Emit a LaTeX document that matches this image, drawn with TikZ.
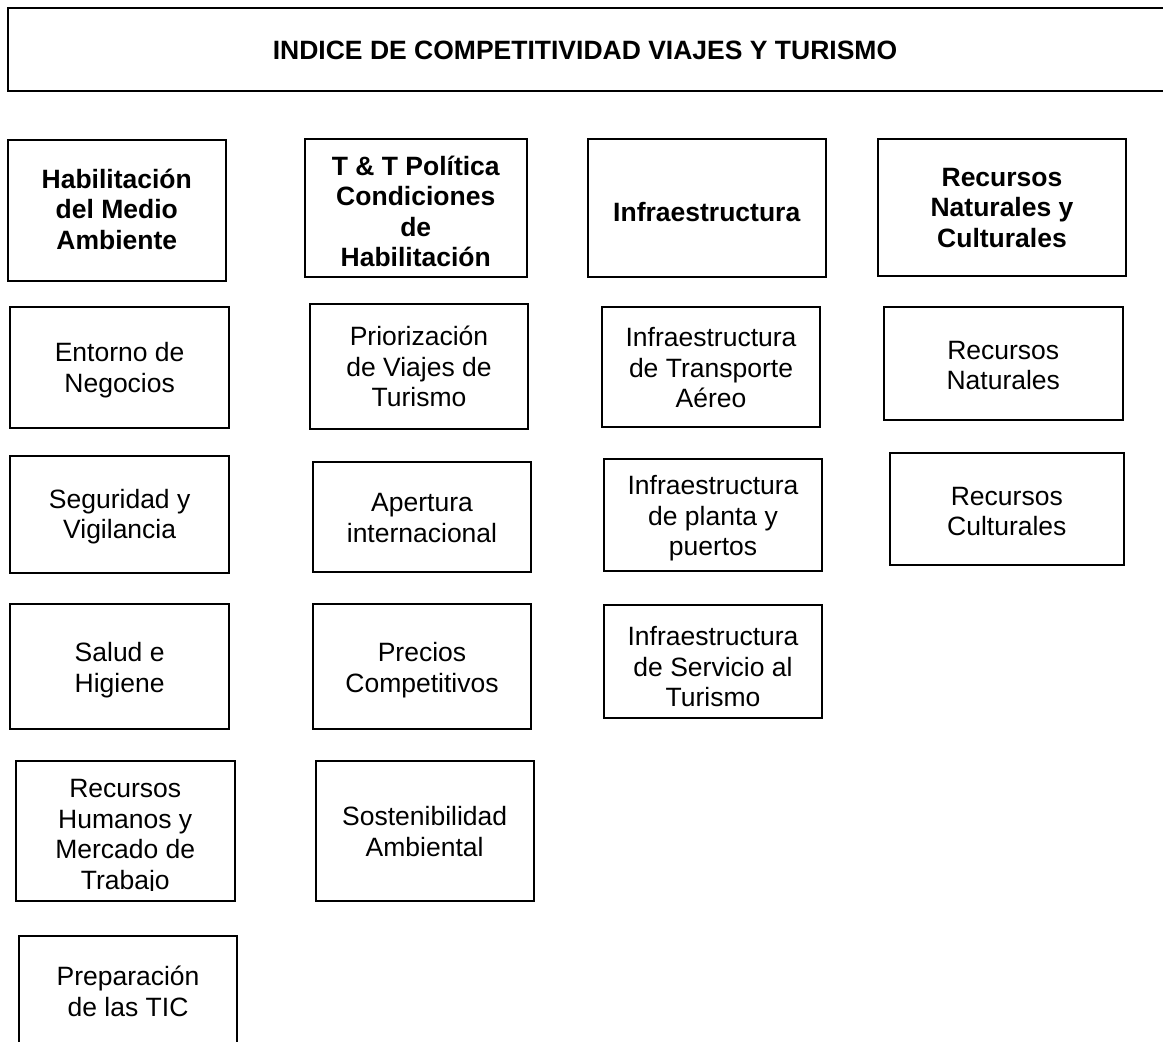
\documentclass[tikz,border=0pt]{standalone}
\usepackage{fontspec}
\setmainfont{Liberation Sans}
\newcommand\boxtxt[1]{\begin{tabular}{@{}c@{}}#1\end{tabular}}
\tikzset{
  frame/.style={draw=black, line width=2pt, inner sep=0pt, outer sep=0pt},
  lbl/.style={inner sep=0pt, outer sep=0pt, font=\fontsize{26.5}{30.5}\selectfont},
  hdr/.style={inner sep=0pt, outer sep=0pt, font=\fontsize{26.5}{30.5}\selectfont\bfseries},
}
\begin{document}
\begin{tikzpicture}[x=1pt, y=-1pt]
\useasboundingbox (0,0) rectangle (1163,1042);
\fill[white] (0,0) rectangle (1163,1042);
\clip (0,0) rectangle (1163,1042);

% title
\node[frame, minimum width=1167pt, minimum height=83pt] (top) at (591.5,49) {};
\node[hdr] (top-t) at (585,53.6) {\boxtxt{INDICE DE COMPETITIVIDAD VIAJES Y TURISMO}};

% headers
\node[frame, minimum width=217.5pt, minimum height=141pt] (h1) at (116.75,210) {};
\node[hdr] (h1-t) at (116.75,212.8) {\boxtxt{Habilitación\\del Medio\\Ambiente}};
\node[frame, minimum width=222.5pt, minimum height=138pt] (h2) at (415.75,207.6) {};
\node[hdr] (h2-t) at (415.75,214.8) {\boxtxt{T \& T Política\\Condiciones\\de\\Habilitación}};
\node[frame, minimum width=237.5pt, minimum height=138pt] (h3) at (706.75,207.6) {};
\node[hdr] (h3-t) at (706.75,215) {\boxtxt{Infraestructura}};
\node[frame, minimum width=248pt, minimum height=137.5pt] (h4) at (1002,207.25) {};
\node[hdr] (h4-t) at (1002,210.8) {\boxtxt{Recursos\\Naturales y\\Culturales}};

% column 1
\node[frame, minimum width=218.7pt, minimum height=121pt] (c1a) at (119.65,367.5) {};
\node[lbl] (c1a-t) at (119.65,370.8) {\boxtxt{Entorno de\\Negocios}};
\node[frame, minimum width=218.7pt, minimum height=117pt] (c1b) at (119.65,514.5) {};
\node[lbl] (c1b-t) at (119.65,517.3) {\boxtxt{Seguridad y\\Vigilancia}};
\node[frame, minimum width=218.7pt, minimum height=125pt] (c1c) at (119.65,666.5) {};
\node[lbl] (c1c-t) at (119.65,670.8) {\boxtxt{Salud e\\Higiene}};
\node[frame, minimum width=219.1pt, minimum height=139.7pt] (c1d) at (125.25,830.85) {};
\begin{scope}
\clip (0,0) rectangle (1163,890);
\node[lbl] (c1d-t) at (125.25,837.6) {\boxtxt{Recursos\\Humanos y\\Mercado de\\Trabajo}};
\end{scope}
\node[frame, minimum width=217.9pt, minimum height=114pt] (c1e) at (128.05,993) {};
\node[lbl] (c1e-t) at (128.05,995) {\boxtxt{Preparación\\de las TIC}};

% column 2
\node[frame, minimum width=218pt, minimum height=124.5pt] (c2a) at (419,366.25) {};
\node[lbl] (c2a-t) at (419,370) {\boxtxt{Priorización\\de Viajes de\\Turismo}};
\node[frame, minimum width=218pt, minimum height=110.6pt] (c2b) at (422,517) {};
\node[lbl] (c2b-t) at (422,520.8) {\boxtxt{Apertura\\internacional}};
\node[frame, minimum width=218pt, minimum height=125.3pt] (c2c) at (422,666.65) {};
\node[lbl] (c2c-t) at (422,670.8) {\boxtxt{Precios\\Competitivos}};
\node[frame, minimum width=218.3pt, minimum height=139.7pt] (c2d) at (424.65,830.85) {};
\node[lbl] (c2d-t) at (424.65,834.8) {\boxtxt{Sostenibilidad\\Ambiental}};

% column 3
\node[frame, minimum width=218pt, minimum height=120pt] (c3a) at (711,366.7) {};
\node[lbl] (c3a-t) at (711,371.3) {\boxtxt{Infraestructura\\de Transporte\\Aéreo}};
\node[frame, minimum width=218pt, minimum height=112pt] (c3b) at (713,515) {};
\node[lbl] (c3b-t) at (713,519.3) {\boxtxt{Infraestructura\\de planta y\\puertos}};
\node[frame, minimum width=218pt, minimum height=113pt] (c3c) at (713,661.2) {};
\node[lbl] (c3c-t) at (713,670.3) {\boxtxt{Infraestructura\\de Servicio al\\Turismo}};

% column 4
\node[frame, minimum width=239.5pt, minimum height=113.3pt] (c4a) at (1003.25,363.35) {};
\node[lbl] (c4a-t) at (1003.25,368.6) {\boxtxt{Recursos\\Naturales}};
\node[frame, minimum width=234.4pt, minimum height=112.3pt] (c4b) at (1006.8,509.15) {};
\node[lbl] (c4b-t) at (1006.8,514.3) {\boxtxt{Recursos\\Culturales}};
\end{tikzpicture}
\end{document}
